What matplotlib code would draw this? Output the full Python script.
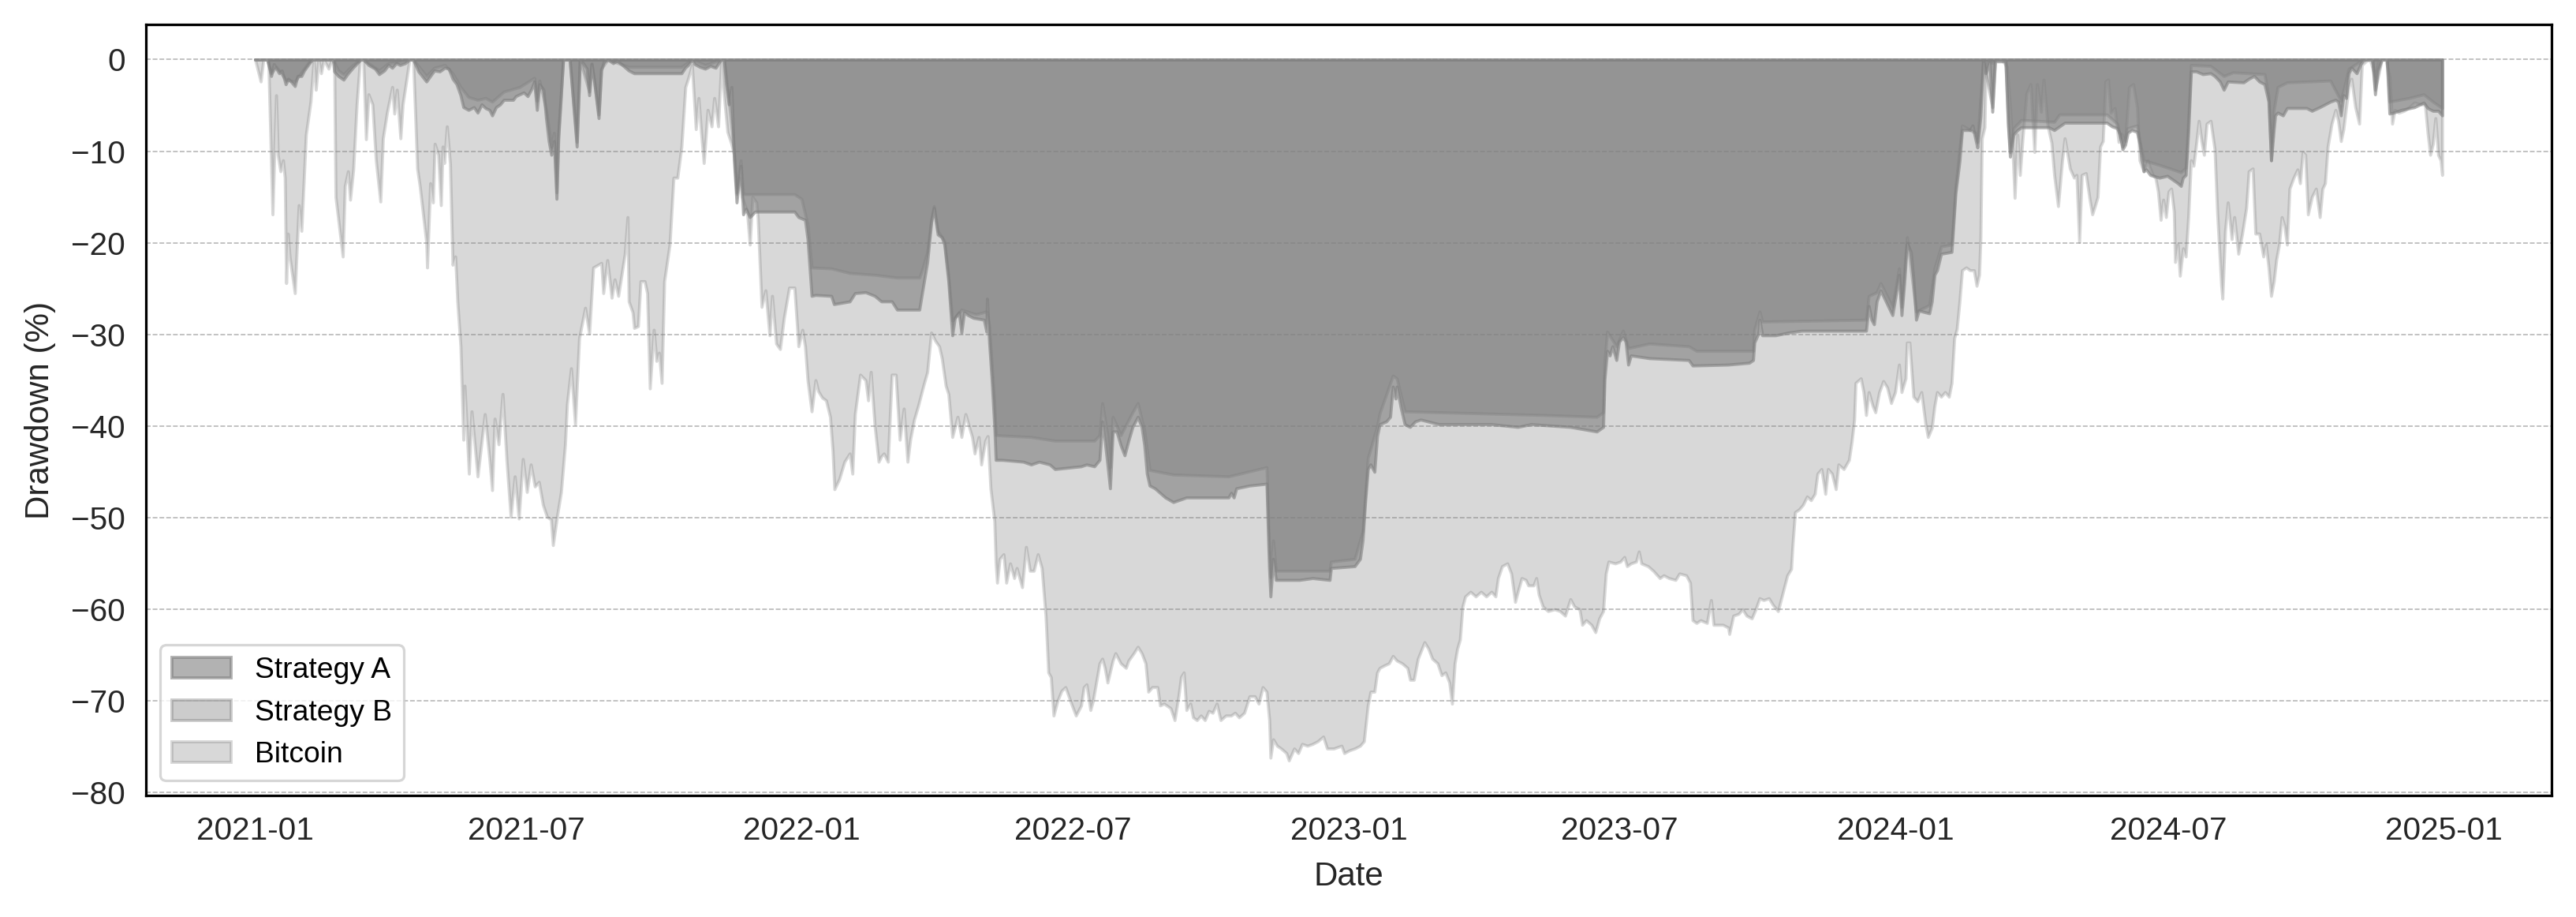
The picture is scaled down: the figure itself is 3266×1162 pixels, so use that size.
import numpy as np
import pandas as pd
import matplotlib
matplotlib.use("Agg")
import matplotlib.pyplot as plt
import matplotlib.dates as mdates

# drawdown series, (days since 2021-01-01, drawdown %)
btc_points = [
    (0, 0), (3.7, -2.4), (5.5, 0), (8.8, 0), (11.6, -16.9), (14, -3.9), (15.1, -10.4), (16.9, -12.2),
    (18.6, -11), (19.8, -12.9), (20.7, -24.4), (21.8, -19), (23, -21.5), (26.5, -25.5), (29.1, -15.9),
    (30.9, -18.7), (33.9, -8.2), (37, -4.6), (39.1, 0), (40.5, -3.3), (42.3, 0), (44, -1.5), (45.8, 0),
    (49, -1), (51.1, 0), (52.8, 0), (53.7, -15), (56.2, -18.4), (58.5, -21.5), (59.9, -13.8), (62, -12.2),
    (63.4, -15.3), (65.5, -12), (67.8, -4.9), (70, 0), (72.2, 0), (74, -8.7), (75.7, -3.8), (78.3, -4.9),
    (80.6, -11), (83.6, -15.5), (85.3, -8.6), (88, -5.8), (91.5, -3), (92.9, -5.9), (94.6, -3.3),
    (97, -8.6), (98.5, -4.9), (101.1, -2.1), (103, 0), (105.5, 0), (108.2, -11.9), (109.9, -13.8),
    (114.3, -20), (114.8, -22.7), (116.9, -13.5), (118.7, -15.6), (119.9, -9.2), (122.2, -10.4),
    (124, -15.9), (125.2, -9.5), (126.2, -11.3), (128, -7.3), (130.1, -11.4), (131.8, -22.4),
    (133.6, -21.5), (135, -26.4), (137.1, -31.3), (139, -41.5), (139.8, -35.6), (142.7, -45.2),
    (144.5, -38.4), (148.5, -45.5), (153.3, -38.7), (156.4, -43.6), (158.2, -47), (159.9, -39.2),
    (162.5, -42), (165.2, -36.5), (167.9, -43.9), (170.6, -49.9), (173.3, -45.5), (176, -50.1),
    (178.7, -43.6), (181.4, -47.2), (184, -44.2), (186.7, -46.6), (189.4, -46.1), (192.1, -48.6),
    (194.8, -49.9), (197.5, -50.2), (198.8, -53), (201.5, -49.9), (204.2, -47.2), (206.9, -42),
    (208.2, -37.6), (210.9, -33.7), (213.6, -39.8), (216.3, -30.4), (220.3, -27.1), (223, -29.9),
    (225.7, -22.7), (231.1, -22.2), (232.4, -25.5), (235.1, -21.9), (238, -26), (240, -24),
    (242.4, -25.8), (246.8, -21.2), (248.6, -17.2), (249.4, -26.4), (252, -27.6), (253, -29.3),
    (255.6, -29.1), (257.3, -24.2), (260, -24.2), (261.7, -25.5), (263.5, -35.9), (266.1, -29.5),
    (267.9, -32.9), (269.6, -32), (271.4, -35.3), (273.1, -24.2), (276.7, -20.2), (279.3, -12.9),
    (281.9, -12.9), (284.6, -9.5), (287.2, -3), (289, -2.1), (291.6, -0.6), (294.2, -7.6), (296, -4.2),
    (297.7, -7.9), (299.5, -11.3), (302.1, -5.5), (304.7, -7.3), (306.5, -4.2), (309.1, -7.3),
    (311.2, 0), (312.6, -3.3), (315.3, -7.9), (317.9, -9.2), (319.7, -10.4), (321.4, -14.7),
    (323.2, -12.9), (325, -15), (328.4, -16.6), (330.2, -20.2), (332, -15), (334.6, -15.6),
    (335.5, -17.2), (338.1, -27), (340.7, -25.2), (343.4, -30.1), (345.1, -25.8), (347.8, -31),
    (350.4, -31.6), (353, -28.2), (356.5, -24.9), (360, -24.9), (362.7, -31.3), (365.3, -29.5),
    (367.1, -31.3), (368.8, -35), (371.5, -38.4), (374.1, -35), (375.9, -36.2), (378.5, -36.9),
    (381.1, -37.2), (383.8, -39), (385.5, -42.7), (386.7, -46.9), (389.9, -45.8), (393.4, -43.9),
    (396.9, -43), (398.7, -45.2), (400.4, -38.7), (403.9, -34.4), (407.5, -35), (409.2, -37.2),
    (411, -34.1), (413.6, -40), (416.2, -43.9), (418, -43.3), (419.7, -43), (422.4, -43.9),
    (425, -34.4), (427.6, -34.4), (430.3, -41.5), (433, -38.1), (435.5, -43.9), (437.3, -41.5),
    (439.9, -39.3), (442.6, -37.8), (446.1, -35.6), (448.7, -34.1), (451.3, -29.8), (454, -30.7),
    (456.6, -31.3), (458.4, -32.6), (461, -35.6), (462.8, -36.5), (465.4, -41.2), (468.9, -39),
    (471.5, -41.2), (474.2, -38.7), (476.8, -40.2), (478.6, -41.2), (480.3, -43), (483, -41.2),
    (484.7, -44.2), (487.4, -41.6), (489, -41.1), (490.9, -46.8), (493.5, -50.4), (494.4, -55),
    (495.3, -57.1), (497, -54.5), (499.6, -54), (501.4, -57.1), (504, -55), (506.7, -56.6),
    (508.4, -55.5), (512, -57.6), (514.6, -53.2), (517.2, -55.8), (519.8, -55.8), (522.5, -54),
    (525.1, -55.5), (527.7, -60.7), (529.5, -66.9), (531.2, -67.4), (533, -71.6), (535.6, -70),
    (538.3, -68.9), (540.9, -68.5), (545.3, -70.5), (547.9, -71.6), (551.4, -70.5), (553.2, -68.5),
    (555, -68.2), (557.6, -71), (559.3, -70), (563.7, -65.9), (565.5, -65.4), (567.2, -66.4),
    (569, -68), (572.5, -65.6), (574.3, -64.8), (577.8, -65.9), (581.3, -66.4), (583, -65.6),
    (586.5, -64.8), (589.2, -64.1), (591.8, -64.8), (594.4, -65.9), (596.2, -69), (598.8, -68.5),
    (602.3, -68.5), (604.1, -70.5), (606.7, -70.3), (611.1, -70.8), (613.8, -72.1), (616.4, -69.5),
    (618.1, -67.4), (619.9, -66.9), (621.7, -71), (624.3, -70.3), (626.1, -71.8), (628.7, -72.1),
    (631.3, -71.6), (634, -72.1), (636.6, -71.1), (639.2, -71.3), (641.9, -70.3), (644.5, -72.1),
    (648, -71.6), (651.5, -71.6), (654.1, -71.3), (656.8, -71.8), (660.3, -71.3), (663.8, -69.5),
    (667.3, -69.5), (669.9, -70.3), (672.6, -68.5), (675.2, -69), (677, -72.1), (677.8, -76.2),
    (679.6, -74.2), (682.2, -74.9), (684.9, -75.2), (688.4, -75.7), (690.1, -76.5), (693.6, -75.2),
    (696.3, -75.7), (698.9, -74.7), (702.4, -74.9), (705.9, -74.7), (709.4, -74.4), (713, -73.9),
    (715.6, -75.2), (720, -75.2), (725.2, -74.9), (727, -75.7), (730.5, -75.4), (734, -75.2),
    (737.6, -74.9), (740.2, -74.4), (742.8, -70.5), (744.6, -69), (747.2, -69), (749, -66.9),
    (750.7, -66.4), (754.2, -66.1), (756.9, -65.9), (759.5, -65.1), (762.1, -65.6), (765.6, -65.9),
    (769.2, -66.4), (771, -67.7), (773.5, -67.7), (776.2, -65.4), (780.6, -63.6), (783.2, -64.3),
    (785.8, -65.4), (789.3, -65.9), (792, -67.2), (794.6, -66.9), (797.2, -68), (799, -70.3),
    (800.8, -65.9), (802.5, -64.3), (804.3, -63.3), (806, -59.7), (807.8, -58.6), (811.3, -58.1),
    (814.8, -58.6), (818.3, -58.1), (821.8, -58.6), (825.3, -58.1), (828, -58.6), (829.7, -56.6),
    (832.4, -55.3), (835.9, -55), (838.5, -56.1), (841.1, -59.2), (842.9, -58.1), (845.5, -56.6),
    (848.2, -56.8), (849.9, -57.4), (853.4, -57.4), (855.2, -56.6), (856.9, -58.4), (859.6, -59.7),
    (863.1, -60.2), (867.5, -60), (871, -60.2), (874.5, -60.7), (878, -58.9), (880.6, -59.7),
    (884.1, -60), (885.9, -61.7), (888.5, -61.2), (892, -61.7), (894.7, -62.5), (897.3, -61),
    (899.9, -60.2), (901.7, -56.1), (903.5, -54.8), (907.9, -55), (911.4, -54.8), (914, -54.3),
    (915.8, -55.3), (918.4, -55), (921.9, -54.8), (923.7, -53.7), (925.4, -55), (929.8, -55.3),
    (933.3, -55.8), (937.7, -56.6), (940.3, -56.3), (943.8, -56.6), (948.2, -56.8), (950.8, -56.1),
    (955.3, -56.3), (957.9, -57.1), (959.6, -61.2), (962.2, -61.5), (964.9, -61.2), (969.2, -61.5),
    (971.9, -59), (973.6, -61.7), (979.8, -61.7), (983.4, -62), (984.1, -62.7), (986.8, -60.7),
    (990.3, -60.5), (992.9, -60), (995.6, -60.7), (999.1, -61), (1001.7, -60), (1004.3, -58.8),
    (1007, -59), (1010.5, -58.8), (1013.1, -59.5), (1016.6, -60.2), (1020.1, -58), (1022.8, -56.3),
    (1025.4, -55.6), (1026.3, -53.1), (1028, -49.4), (1030.7, -49.1), (1033.3, -48.6), (1036, -47.7),
    (1038.6, -48.1), (1041.2, -47.4), (1043, -45.2), (1045.6, -44.7), (1048.2, -47.4), (1050, -44.7),
    (1052.6, -45.2), (1055.2, -46.9), (1057, -44.2), (1060.5, -44.7), (1064, -43.7), (1065.8, -41.7),
    (1067.5, -39.3), (1068.4, -35.3), (1071.9, -34.8), (1073.7, -36.3), (1075.4, -38.8),
    (1077.2, -36.3), (1079.8, -37.8), (1081.6, -38.5), (1084.2, -36.3), (1086.9, -35.1),
    (1089.5, -35.8), (1092.1, -37.5), (1094.8, -36.3), (1097.4, -33.3), (1099.1, -36.3),
    (1101.8, -34.8), (1102.7, -30.9), (1104.4, -30.9), (1107, -36.8), (1109.7, -37.3),
    (1112.3, -36.3), (1115, -39.7), (1116.7, -41.2), (1119.3, -40.2), (1121.1, -37.8),
    (1122.8, -36.3), (1125.5, -36.8), (1128.1, -36.3), (1130.7, -36.8), (1132.5, -35.3),
    (1134.3, -30.4), (1136, -29.4), (1137.8, -26.4), (1139.5, -23), (1142.2, -22.7), (1144.8, -23),
    (1147.4, -23), (1149.2, -24.7), (1150.9, -23.5), (1151.8, -19.5), (1152.7, -8.6), (1154.5, -7.4),
    (1155.3, -0.7), (1157.1, 0), (1159.7, -0.4), (1162.3, 0), (1166, 0), (1169.5, -0.8),
    (1171.3, -4.7), (1172.9, -8.6), (1174.6, -15.1), (1176.4, -8.2), (1178.1, -12.6), (1179.9, -8.6),
    (1182.5, -3.7), (1185.2, -2.7), (1187.8, -10.1), (1189.5, -2.7), (1192.2, -5.7), (1193.9, -2.2),
    (1196.6, -7.2), (1199.2, -9.1), (1201, -12.6), (1203.6, -16), (1206.3, -11), (1208, -8.6),
    (1211.5, -11.9), (1214.2, -12.9), (1215.9, -12.6), (1217.7, -19.9), (1219.4, -12.6),
    (1222.1, -12.4), (1224.7, -15.3), (1226.4, -16.9), (1228.2, -16), (1230, -15), (1231.7, -9.5),
    (1233.5, -8.9), (1235.2, -2.4), (1237, -2.2), (1238.7, -5.8), (1241.4, -5.3), (1244, -9),
    (1245.8, -8.1), (1248.4, -8.9), (1251, -3), (1253.7, -2.7), (1256.3, -5.2), (1258, -11),
    (1260.7, -12.2), (1263.3, -11), (1265.1, -11.9), (1266.8, -12.6), (1268.6, -12.9), (1270.3, -14.4),
    (1272.1, -17.5), (1273.8, -15.3), (1275.6, -17.2), (1277.4, -14.4), (1279.1, -14.1),
    (1280.9, -16.6), (1281.7, -22.1), (1283.5, -20.2), (1284.9, -23.6), (1287, -20.6), (1288.8, -21.5),
    (1290.5, -17.2), (1292.3, -11), (1294, -11.6), (1295.8, -9.2), (1297.5, -6.7), (1299.3, -8.9),
    (1301, -10.4), (1302.8, -7), (1305.4, -6.7), (1308.1, -9.8), (1309.8, -16.6), (1312.5, -24.6),
    (1313.3, -26.1), (1315.1, -18.7), (1316.9, -15.6), (1319.5, -19.6), (1321.2, -17.2),
    (1323.9, -21.2), (1326.5, -19), (1329.2, -16.2), (1330.9, -12.2), (1333.5, -11.9), (1335.3, -19),
    (1337.9, -19), (1340.6, -21.5), (1342.3, -20.2), (1344.1, -22.7), (1345.8, -25.8), (1347.6, -24.2),
    (1349.3, -21.8), (1351.1, -20.2), (1352.9, -17.2), (1354.6, -18.1), (1356.4, -20.2),
    (1358.1, -14.1), (1360.8, -12.9), (1363.4, -12), (1365.1, -13.5), (1366.9, -10.1), (1368.6, -10.4),
    (1370.4, -16.9), (1373, -15), (1375.7, -14.1), (1378.3, -17.2), (1380.1, -14.1), (1381.8, -13.5),
    (1383.6, -9.5), (1386.2, -7), (1388.8, -5.5), (1390.6, -6.7), (1392.4, -8.9), (1394.1, -7.6),
    (1395.9, -5.2), (1397.6, -3), (1399.4, -2.1), (1402, -5.2), (1404.6, -7), (1406.4, -0.6),
    (1409, -0.2), (1411.7, 0), (1415.2, -1.8), (1417.8, 0), (1422.2, 0), (1424.8, -1.8), (1426.6, -7),
    (1428.3, -5.5), (1431, -5.8), (1434.5, -5.6), (1438, -5.2), (1441.5, -4.7), (1445.9, -4.9),
    (1448.5, -4.9), (1450.3, -8), (1452, -10.4), (1453.8, -9.2), (1455.5, -6.4), (1457.3, -10.4),
    (1459, -11), (1460, -12.6),
]

strat_a_points = [
    (0, 0), (8.1, 0), (10.7, -1.8), (12.5, -0.5), (14.2, -1), (16, -1.5), (17.8, -1.2), (20.4, -2.7),
    (22.1, -2.1), (23.9, -2.4), (26.5, -2.9), (28.3, -1.8), (30.9, -1.8), (32.7, -1.2), (35.3, -0.6),
    (38, 0), (52, 0), (52.8, -1.3), (55.5, -1.8), (59, -2.2), (61.6, -1.6), (65.2, -0.9), (68.7, -0.3),
    (70.4, 0), (72.2, 0), (75.7, -0.6), (80, -1), (82.7, -1.6), (86.2, -1.2), (88.9, -0.6), (91.5, -0.9),
    (94.2, -0.4), (96.7, -0.6), (100.2, -0.4), (103, 0), (105.5, 0), (109, -1.3), (114.3, -2.4),
    (116.9, -1.8), (119.6, -1.2), (123.2, -1.3), (126.6, -0.9), (129.2, -1), (131.8, -2.1),
    (134.5, -2.7), (137.1, -3.9), (139, -5.2), (142.4, -5.5), (146, -5.2), (148.5, -5.8), (151.2, -4.9),
    (153.8, -5.3), (156.4, -5.5), (158.2, -6.1), (160.8, -5.2), (163.5, -4.9), (166, -4.4),
    (169.6, -4.4), (172.2, -4.4), (174, -4), (176.6, -3.8), (179.3, -3.6), (181.9, -4), (184.5, -3.2),
    (186.3, -2.4), (188.1, -5.5), (189.8, -2.7), (192.5, -3.3), (194.2, -6.4), (196, -8.9),
    (197.7, -10.4), (199.5, -8.9), (201.2, -15.2), (202.4, -8.6), (203.8, -4.9), (205.6, 0), (210, 0),
    (214.7, -9.5), (216.8, 0), (219, -0.4), (221.4, -1), (223, -3.9), (224.6, -0.5), (226.4, -2.4),
    (229.3, -6.4), (231, -1.2), (232.8, -0.2), (235.4, 0), (239, -0.4), (241.6, -0.1), (249.4, -1.2),
    (253, -1.5), (284.6, -1.5), (287, -0.9), (289, -0.6), (291.6, 0), (293.4, -0.5), (296.8, -0.8),
    (300.4, -1), (303.9, -0.7), (307.4, -0.9), (310.9, 0), (313, 0), (314.4, -2.7), (316.2, -4.9),
    (318, -3), (319.7, -11), (321.4, -15.6), (324.1, -11.6), (325.8, -16.9), (327.6, -16.3),
    (330.2, -17.2), (333.7, -16.6), (360, -16.6), (362.7, -17.2), (367.1, -17.5), (368.8, -19.6),
    (371.5, -25.8), (374.1, -25.7), (384.6, -25.8), (386.4, -26.7), (396.9, -26.4), (400.4, -25.5),
    (407.5, -25.4), (413.6, -25.8), (418, -26.4), (425, -26.4), (428.5, -27.3), (443.4, -27.3),
    (445.2, -25.5), (448.7, -22.1), (451.3, -17.8), (453.1, -16.2), (455.7, -19.1), (458.4, -19.4),
    (460.1, -20.2), (462.8, -24.2), (465.4, -30.1), (467.1, -28.2), (469.8, -27.6), (471.5, -29.8),
    (473.3, -27.6), (475.9, -27.9), (479.4, -28.2), (486.5, -28.4), (488.2, -29.7), (488.6, -26.1),
    (490, -30.8), (491.7, -34.9), (493.5, -40.1), (494.4, -43.7), (498.8, -43.7), (512.8, -43.9),
    (518, -44.2), (523.3, -43.9), (530.4, -44.2), (533.9, -44.7), (551.4, -44.4), (555, -44.2),
    (560.2, -44.4), (563.7, -43.7), (565.5, -39.5), (567.2, -41.6), (569, -44.2), (570.7, -46.8),
    (572.5, -40.6), (575.1, -40.6), (577.8, -42.1), (580.4, -43.2), (583, -41.6), (585.7, -40.1),
    (589.2, -39), (591.8, -40.1), (593.6, -42.1), (595.3, -45.2), (597.1, -46.5), (600.6, -46.8),
    (607.6, -47.8), (612.9, -48.3), (616.4, -48.1), (621.7, -47.8), (649.8, -47.8), (651.5, -47.3),
    (653.3, -47.8), (655, -46.8), (663.8, -46.5), (675.2, -46.3), (676.9, -55.5), (677.8, -58.6),
    (679.6, -54.5), (681.4, -56.8), (697.1, -56.8), (705.9, -56.6), (717.3, -56.8), (718.2, -55.5),
    (734, -55.3), (737.6, -54.5), (739.3, -52.5), (741, -48.3), (742.8, -44.7), (744.6, -44.2),
    (747.2, -45), (749, -41.1), (750.7, -39.8), (755.1, -39.5), (757.7, -39), (759.5, -35.7),
    (761.3, -37), (762.1, -35.7), (764.8, -38), (767.4, -39.8), (770.9, -40.1), (774.4, -39.5),
    (778, -39.3), (790.2, -39.8), (825.3, -39.8), (842.9, -40.1), (851.7, -39.8), (878, -40.1),
    (895.6, -40.6), (899.9, -40.1), (900.8, -34.9), (902.6, -31.8), (904.3, -32.3), (906.1, -31.3),
    (908.7, -32.8), (910.5, -30.8), (913.1, -30.3), (914.9, -30.8), (916.6, -33.3), (918.4, -32.3),
    (930.7, -32.6), (957, -32.8), (959.6, -33.4), (983.3, -33.3), (997.3, -33.1), (1000, -32.8),
    (1000.8, -30.9), (1003.5, -29.9), (1004.3, -28.4), (1006.1, -30.1), (1014.9, -30.1),
    (1023.6, -29.8), (1032.4, -29.6), (1075.4, -29.6), (1077.2, -26.9), (1079, -28.4), (1080.7, -28.9),
    (1082.5, -26.4), (1085.1, -25.2), (1088.6, -26.4), (1093, -27.9), (1095.6, -25.4), (1097.4, -23.5),
    (1099.1, -27.9), (1100.9, -24.4), (1102.7, -20), (1105.3, -21), (1107, -23.9), (1108.8, -28.4),
    (1110.6, -27.4), (1117.6, -27.7), (1119.3, -26.4), (1121.1, -23.5), (1122.8, -23), (1125.5, -21.2),
    (1132.5, -21), (1135.1, -14.6), (1137.8, -11.1), (1139.5, -7.7), (1144.8, -7.7), (1146.5, -7.2),
    (1148.3, -8.6), (1149.7, -9.6), (1151.8, -6.2), (1153.6, 0), (1155.3, -1.5), (1157.9, -0.2),
    (1159.7, -5.7), (1161.5, -0.2), (1168.5, -0.2), (1170.2, -7.2), (1171.5, -10.6), (1173.8, -8.2),
    (1176.4, -7.7), (1179, -7.4), (1197.4, -7.4), (1201, -7.7), (1204.5, -7.3), (1208, -6.9),
    (1236.1, -6.9), (1239.6, -7.3), (1243.1, -7.5), (1244.9, -8.2), (1246.6, -9.8), (1248.4, -9.3),
    (1250.1, -8), (1252.8, -7.7), (1256.3, -7.9), (1258, -9.2), (1260.7, -12.2), (1262.4, -12),
    (1265.1, -12.6), (1271.2, -12.9), (1276.5, -12.7), (1283.5, -13.5), (1285.6, -13.8),
    (1286.9, -12.9), (1288.8, -12.6), (1290.5, -7.9), (1292.3, -1.3), (1295.8, -1.3), (1300.2, -1.6),
    (1305.4, -1.5), (1308.1, -1.8), (1311.6, -2.4), (1314.2, -3.3), (1316.9, -2.4), (1327.4, -2.5),
    (1330.9, -2.1), (1334.4, -1.8), (1337.9, -2.4), (1341.4, -2.7), (1344.1, -4.6), (1345.8, -11),
    (1347.6, -7.6), (1348.5, -6.1), (1350.2, -5.8), (1353.7, -6.1), (1356.4, -5.3), (1369.5, -5.3),
    (1373, -5.6), (1378.3, -5.2), (1385.3, -4.6), (1388.8, -4.4), (1390.6, -4.6), (1392.4, -6.1),
    (1394.1, -3.9), (1395.9, -4.2), (1397.6, -1.5), (1399.4, -0.9), (1402.9, -1.5), (1405.5, -0.5),
    (1407.3, 0), (1413.4, 0), (1415.2, -3.8), (1416.9, -1.2), (1419.6, 0), (1423.1, 0),
    (1424.8, -5.9), (1427.4, -5.8), (1432.7, -5.5), (1441.5, -5.2), (1447.6, -4.7), (1450.3, -5.3),
    (1453.8, -5.6), (1457.3, -5.6), (1460, -6.1),
]

strat_b_points = [
    (0, 0), (8.1, 0), (10.7, -1.5), (14.2, -0.8), (20.4, -2.2), (26.5, -2.4), (30.9, -1.4),
    (35.3, -0.4), (38, 0), (52, 0), (55.5, -1.2), (59, -1.6), (65.2, -0.6), (70.4, 0), (72.2, 0),
    (82.7, -1.2), (88.9, -0.4), (94.2, -0.3), (103, 0), (105.5, 0), (114.3, -1.8), (119.6, -0.9),
    (126.6, -0.6), (131.8, -1.5), (137.1, -3), (142.4, -4.1), (148.5, -4.4), (153.8, -4.2),
    (158.2, -4.6), (166, -3.5), (176.6, -3), (186.3, -2), (188.1, -4.5), (189.8, -2.3), (194.2, -5.5),
    (197.7, -9.5), (199.5, -8), (201.2, -14.5), (202.4, -8), (203.8, -4.5), (205.6, 0), (210, 0),
    (214.7, -9), (216.8, 0), (223, -3.5), (224.6, -0.4), (229.3, -6), (231, -1), (235.4, 0),
    (249.4, -0.8), (284.6, -0.8), (291.6, 0), (300.4, -0.6), (310.9, 0), (313, 0), (316.2, -4.5),
    (319.7, -10), (321.4, -14.5), (324.1, -11), (325.8, -14.7), (360, -14.7), (364.7, -15.2),
    (368.8, -18), (371.5, -22.7), (384.6, -22.8), (396.9, -23.3), (413.6, -23.5), (428.5, -23.8),
    (443.4, -23.8), (445.2, -23), (448.7, -21), (451.3, -17.5), (453.1, -16), (455.7, -18.7),
    (460.1, -19.8), (462.8, -23.6), (465.4, -28.5), (471.5, -27.3), (481.2, -27.8), (488.2, -27.5),
    (490, -29), (493.5, -37.6), (494.4, -41), (518, -41.2), (533.9, -41.6), (560.2, -41.6),
    (563.7, -41), (565.5, -37.5), (569, -41), (570.7, -44.5), (572.5, -39), (577.8, -41),
    (585.7, -38.5), (589.2, -37.5), (593.6, -40.5), (597.1, -44.8), (612.9, -45.3), (649.8, -45.5),
    (675.2, -44.5), (676.9, -53.5), (677.8, -56.5), (679.6, -52.5), (681.4, -55.8), (717.3, -55.8),
    (718.2, -54.8), (734, -54.5), (739.3, -51.5), (742.8, -43.5), (749, -40), (750.7, -38.6),
    (759.5, -34.5), (762.1, -34.8), (767.4, -38.4), (790.2, -38.5), (860.5, -38.8), (895.6, -39),
    (899.9, -38.5), (900.8, -33), (902.6, -29.7), (908.7, -31.3), (913.1, -29.6), (916.6, -31.5),
    (930.7, -31), (957, -31.3), (962.2, -31.8), (1000, -31.8), (1000.8, -29.5), (1004.3, -27.5),
    (1006.1, -28.6), (1075.4, -28.4), (1077.2, -25.8), (1082.5, -25.4), (1085.1, -24.4), (1093, -27),
    (1097.4, -22.8), (1099.1, -27), (1102.7, -19.4), (1108.8, -27.5), (1117.6, -26.8),
    (1121.1, -22.8), (1125.5, -20.4), (1132.5, -20.2), (1135.1, -13.9), (1139.5, -7.2),
    (1148.3, -8), (1149.7, -9), (1153.6, 0), (1159.7, -5.2), (1161.5, 0), (1168.5, 0),
    (1170.2, -6.8), (1171.5, -10.1), (1173.8, -7.5), (1179, -6.6), (1201, -6.8), (1204.5, -6),
    (1236.1, -6), (1243.1, -7), (1246.6, -9.5), (1250.1, -7.5), (1256.3, -7.2), (1258, -8.8),
    (1260.7, -11), (1271.2, -11.5), (1285.6, -12.3), (1288.8, -11.8), (1290.5, -6.5), (1292.3, -0.6),
    (1305.4, -0.7), (1314.2, -1.8), (1320.4, -1.4), (1341.4, -1.6), (1344.1, -4), (1345.8, -11),
    (1347.6, -5.5), (1350.2, -3), (1356.4, -2.5), (1385.3, -2.3), (1392.4, -4.5), (1397.6, -1),
    (1407.3, 0), (1413.4, 0), (1415.2, -3.3), (1419.6, 0), (1423.1, 0), (1424.8, -4.6),
    (1437.9, -4.2), (1447.6, -3.8), (1453.8, -4.6), (1460, -5.3),
]

start = pd.Timestamp("2021-01-01")


def to_series(points):
    d, v = zip(*points)
    dates = start + pd.to_timedelta(np.array(d), unit="D")
    return dates, np.array(v)


plt.rcParams["font.family"] = ["Liberation Sans", "DejaVu Sans"]

dpi = 233.3
fig = plt.figure(figsize=(3266 / dpi, 1162 / dpi), dpi=dpi)
ax = fig.add_axes([0.0566, 0.1325, 0.9339, 0.8408])

series = [
    ("Strategy A", strat_a_points, 0.6),
    ("Strategy B", strat_b_points, 0.4),
    ("Bitcoin", btc_points, 0.3),
]
for name, pts, alpha in series:
    x, y = to_series(pts)
    ax.fill_between(x, y, 0, color="gray", alpha=alpha, linewidth=1.2, label=name)

ax.grid(axis="y", linestyle="--", linewidth=0.5, color="#b5b5b5")
ax.grid(axis="x", visible=False)
ax.set_axisbelow(True)

ax.xaxis.set_major_locator(mdates.MonthLocator(bymonth=[1, 7]))
ax.xaxis.set_major_formatter(mdates.DateFormatter("%Y-%m"))
ax.set_yticks(np.arange(-80, 1, 10))
ax.tick_params(axis="both", length=0, labelsize=12.5, colors="#262626")
ax.tick_params(axis="x", pad=8)
ax.tick_params(axis="y", pad=8)

for sp in ax.spines.values():
    sp.set_color("black")
    sp.set_linewidth(1.0)

ax.set_xlabel("Date", fontsize=13, color="#262626", labelpad=6)
ax.set_ylabel("Drawdown (%)", fontsize=13, color="#262626", labelpad=6)

leg = ax.legend(loc="lower left", fontsize=11.5, frameon=True, fancybox=True)
leg.get_frame().set_edgecolor("#cccccc")

fig.savefig("out.png", dpi=dpi)
